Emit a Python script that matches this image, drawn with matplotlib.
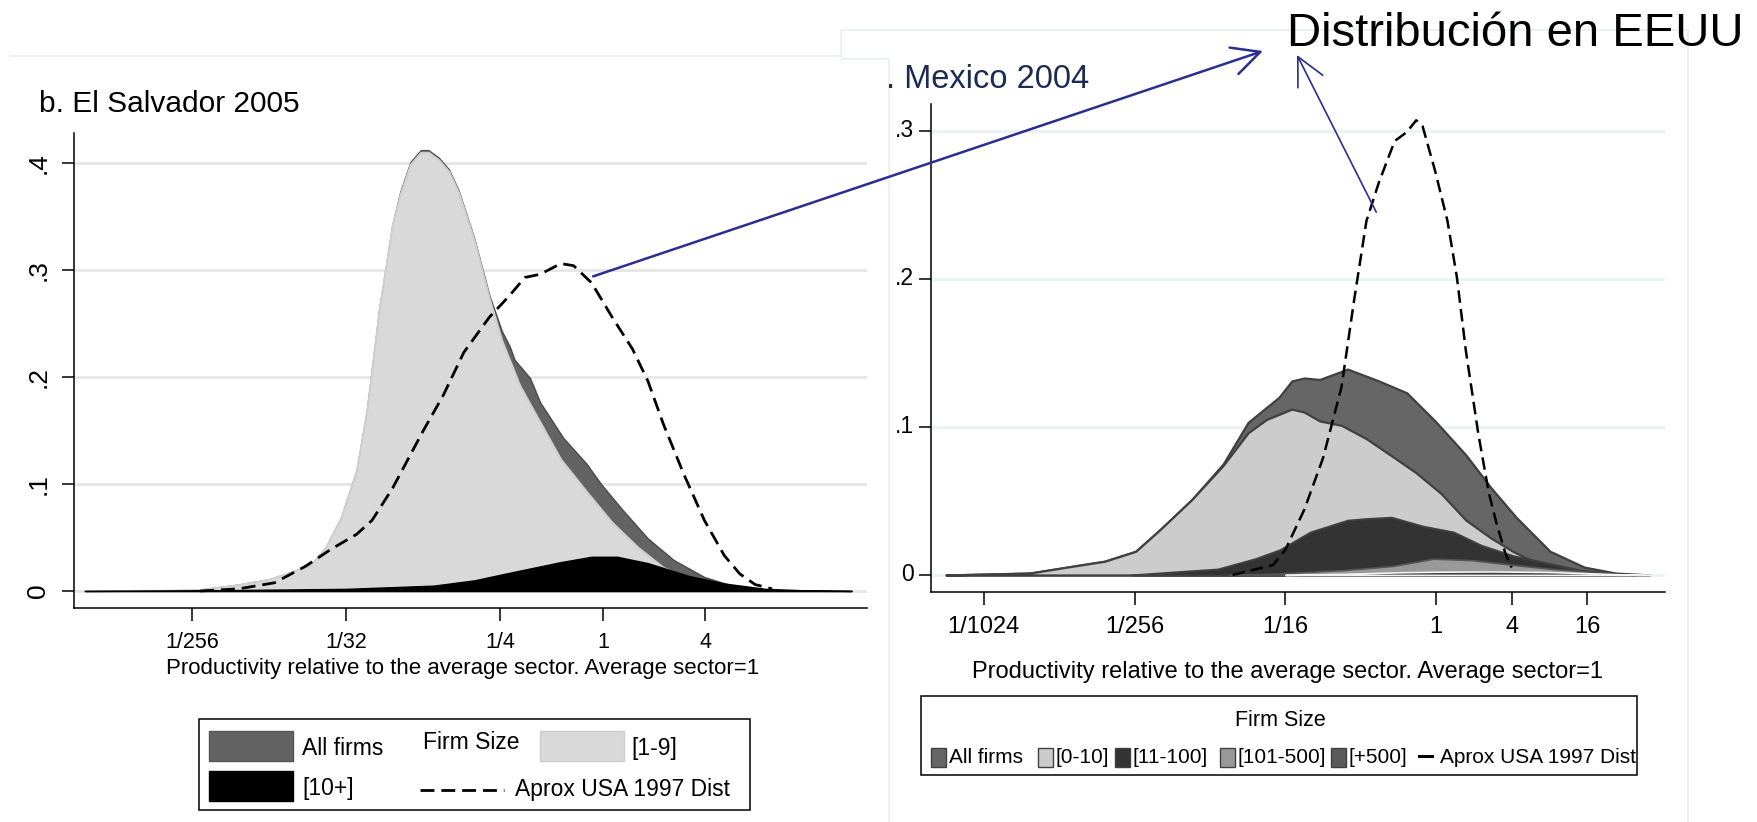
import matplotlib
matplotlib.use("Agg")
import matplotlib.pyplot as plt
from matplotlib.patches import Rectangle, ConnectionPatch

plt.rcParams['font.family'] = ['Liberation Sans', 'DejaVu Sans']

W, H, DPI = 1758, 822, 100

# x values are log2(productivity relative to sector average)
# b. El Salvador 2005
es_all_x = [-10.1, -7.9, -7.1, -6.5, -6.0, -5.7, -5.4, -5.1, -4.8, -4.6, -4.36, -4.1, -3.95,
            -3.75, -3.55, -3.4, -3.2, -3.0, -2.81, -2.51, -2.21, -1.97, -1.82, -1.72, -1.42,
            -1.22, -0.77, -0.32, -0.02, 0.38, 0.88, 1.38, 1.98, 2.57, 3.17, 3.85, 4.85]
es_all_y = [0, .001, .006, .011, .019, .024, .041, .069, .113, .169, .263, .343, .373,
            .401, .412, .412, .405, .394, .374, .330, .276, .243, .229, .216, .199,
            .176, .143, .119, .099, .076, .049, .029, .013, .0043, .001, .0003, 0]
es_small_x = [-10.1, -7.9, -7.1, -6.5, -6.0, -5.7, -5.4, -5.1, -4.8, -4.6, -4.36, -4.1, -3.95,
              -3.75, -3.55, -3.4, -3.2, -3.0, -2.81, -2.51, -2.21, -1.97, -1.82, -1.62, -1.32,
              -0.82, -0.32, 0.18, 0.68, 1.18, 1.68, 2.37, 2.97, 3.6]
es_small_y = [0, .001, .006, .011, .019, .024, .041, .069, .113, .169, .263, .343, .371,
              .399, .410, .410, .403, .392, .372, .328, .273, .234, .216, .192, .166,
              .123, .093, .064, .041, .022, .011, .004, .001, 0]
es_large_x = [-10.1, -7.9, -5.0, -3.3, -2.5, -1.82, -0.82, -0.22, 0.28, 0.88, 1.68, 2.37,
              3.17, 3.85, 4.85]
es_large_y = [0, .0005, .002, .005, .010, .017, .027, .032, .032, .026, .014, .007,
              .002, .0008, 0]
es_usa_x = [-7.85, -7.1, -6.4, -5.8, -5.3, -4.8, -4.5, -4.1, -3.51, -3.11, -2.71, -2.21,
            -1.82, -1.52, -1.22, -0.82, -0.57, -0.22, 0.18, 0.58, 0.88, 1.18, 1.58, 1.98,
            2.37, 2.67, 2.97, 3.3]
es_usa_y = [0, .002, .0077, .023, .039, .053, .066, .096, .149, .183, .223, .256,
            .276, .293, .296, .306, .304, .288, .256, .226, .196, .156, .109, .066,
            .033, .016, .006, .002]
es_xticks = [-8, -5, -2, 0, 2]
es_xlabels = ['1/256', '1/32', '1/4', '1', '4']
es_yticks = [0, .1, .2, .3, .4]
es_ylabels = ['0', '.1', '.2', '.3', '.4']

# Mexico 2004
mx_all_x = [-13.0, -10.78, -9.62, -8.79, -7.97, -7.31, -6.48, -5.65, -4.99, -4.17, -3.83,
            -3.5, -3.09, -2.35, -1.52, -0.78, -0.03, 0.79, 1.45, 2.12, 3.02, 3.93, 4.76, 5.67]
mx_all_y = [0, .0013, .006, .0093, .016, .031, .051, .075, .103, .120, .131,
            .133, .132, .139, .131, .123, .104, .081, .059, .039, .016, .0053, .0013, 0]
mx_small_x = [-13.0, -10.78, -9.62, -8.79, -7.97, -7.31, -6.48, -5.65, -4.99, -4.5, -3.83,
              -3.5, -3.09, -2.51, -1.85, -1.1, -0.53, 0.13, 0.79, 1.45, 2.03, 2.78, 3.77, 4.76]
mx_small_y = [0, .0013, .006, .0093, .016, .031, .051, .074, .096, .105, .112,
              .110, .104, .101, .092, .079, .069, .055, .037, .025, .016, .0067, .002, 0]
mx_mid_x = [-8.1, -6.7, -5.8, -4.8, -4.15, -3.34, -2.35, -1.9, -1.19, -0.36, 0.46, 1.2,
            2.04, 2.78, 3.8, 4.76, 5.3]
mx_mid_y = [0, .0025, .004, .011, .017, .029, .037, .038, .039, .033, .029, .020,
            .013, .009, .0034, .001, 0]
mx_upper_x = [-5.5, -4.17, -2.4, -1.19, -0.5, -0.08, 0.96, 2.05, 3.1, 3.8, 4.8, 5.5]
mx_upper_y = [0, .001, .0034, .006, .009, .011, .010, .0068, .004, .0027, .0008, 0]
mx_top_x = [-4.0, -2.4, -1.0, 0.0, 1.5, 3.0, 4.0, 5.0, 5.7]
mx_top_y = [0, .0008, .0018, .0022, .0024, .002, .0012, .0003, 0]
mx_usa_x = [-5.4, -4.33, -4.0, -3.5, -3.0, -2.51, -2.18, -1.85, -1.52, -1.1, -0.78, -0.53,
            -0.36, -0.03, 0.3, 0.55, 0.79, 1.12, 1.4, 1.6, 1.83, 2.0]
mx_usa_y = [0, .0067, .017, .044, .079, .127, .185, .239, .265, .293, .299, .307,
            .303, .273, .239, .201, .151, .095, .055, .035, .015, .005]
mx_xticks = [-12, -8, -4, 0, 2, 4]
mx_xlabels = ['1/1024', '1/256', '1/16', '1', '4', '16']
mx_yticks = [0, .1, .2, .3]
mx_ylabels = ['0', '.1', '.2', '.3']

xlabel_text = 'Productivity relative to the average sector. Average sector=1'
es_legend = ['All firms', '[10+]', 'Firm Size', 'Aprox USA 1997 Dist', '[1-9]']
mx_legend = ['All firms', '[0-10]', '[11-100]', '[101-500]', '[+500]', 'Aprox USA 1997 Dist']
NAVY = '#2b2e8f'


def px_rect(x0, y0, x1, y1):
    return [x0 / W, 1 - y1 / H, (x1 - x0) / W, (y1 - y0) / H]


def style_axes(ax, yticks, ylabels, xticks, xlabels, grid_color, rot, xlab_pos, xlab_size):
    for s in ('top', 'right'):
        ax.spines[s].set_visible(False)
    for s in ('left', 'bottom'):
        ax.spines[s].set_linewidth(1.1)
    ax.set_yticks(yticks)
    ax.set_yticklabels(ylabels, rotation=rot, va='center')
    ax.set_xticks(xticks)
    ax.set_xticklabels(xlabels)
    ax.tick_params(axis='both', length=9, width=1.1)
    for v in yticks:
        ax.axhline(v, color=grid_color, lw=2.0, zorder=0)
    ax.set_xlabel(xlabel_text, fontsize=xlab_size)
    ax.xaxis.set_label_coords(*xlab_pos)


fig = plt.figure(figsize=(W / DPI, H / DPI), dpi=DPI)

# faint screenshot frames
deco = fig.add_axes([0, 0, 1, 1], zorder=-5)
deco.set_xlim(0, W)
deco.set_ylim(H, 0)
deco.axis('off')
fc = '#e9efef'
deco.plot([10, 841], [56, 56], color=fc, lw=1.2)
deco.plot([841, 841, 1688, 1688], [56, 30, 30, 822], color=fc, lw=1.2)
deco.plot([841, 889, 889], [59, 59, 822], color=fc, lw=1.2)

# ---- left panel: El Salvador ----
ax1 = fig.add_axes(px_rect(74, 133, 867, 608))
ax1.set_xlim(-10.31, 5.15)
ax1.set_ylim(-0.0159, 0.428)
ax1.fill_between(es_all_x, 0, es_all_y, facecolor='#636363', edgecolor='#4a4a4a', lw=1, zorder=2)
ax1.fill_between(es_small_x, 0, es_small_y, facecolor='#d9d9d9', edgecolor='#cfcfcf', lw=1.5, zorder=3)
ax1.fill_between(es_large_x, 0, es_large_y, facecolor='black', edgecolor='black', lw=1, zorder=4)
ax1.plot(es_usa_x, es_usa_y, color='black', lw=2.0, dashes=(5, 2.5), zorder=5)
style_axes(ax1, es_yticks, es_ylabels, es_xticks, es_xlabels, '#e6e6e6', 90, (0.49, -0.105), 16)
ax1.tick_params(axis='x', labelsize=15.5, pad=8)
ax1.tick_params(axis='y', labelsize=19, pad=8)

# ---- right panel: Mexico ----
ax2 = fig.add_axes(px_rect(931, 104, 1665, 592))
ax2.set_xlim(-13.40, 6.07)
ax2.set_ylim(-0.0115, 0.318)
edge = '#404040'
ax2.fill_between(mx_all_x, 0, mx_all_y, facecolor='#666666', edgecolor=edge, lw=1.6, zorder=2)
ax2.fill_between(mx_small_x, 0, mx_small_y, facecolor='#cccccc', edgecolor=edge, lw=1.6, zorder=3)
ax2.fill_between(mx_mid_x, 0, mx_mid_y, facecolor='#333333', edgecolor=edge, lw=1.4, zorder=4)
ax2.fill_between(mx_upper_x, 0, mx_upper_y, facecolor='#999999', edgecolor='#555555', lw=1.2, zorder=5)
ax2.fill_between(mx_top_x, 0, mx_top_y, facecolor='#444444', edgecolor='#f2f2f2', lw=1.2, zorder=6)
ax2.plot(mx_usa_x, mx_usa_y, color='black', lw=1.8, dashes=(5, 2.5), zorder=7)
style_axes(ax2, mx_yticks, mx_ylabels, mx_xticks, mx_xlabels, '#eaf2f3', 0, (0.486, -0.141), 17)
ax2.tick_params(axis='x', labelsize=17, pad=8)
ax2.tick_params(axis='y', labelsize=16.5, pad=3)

# ---- overlay: titles, legends, arrows ----
over = fig.add_axes([0, 0, 1, 1], zorder=10)
over.set_xlim(0, W)
over.set_ylim(H, 0)
over.axis('off')

over.text(39, 104, 'b. El Salvador 2005', fontsize=21.5, va='center', ha='left')
over.text(886, 79, '. Mexico 2004', fontsize=23.5, va='center', ha='left', color='#1c2b53')
over.text(1287, 34, 'Distribución en EEUU', fontsize=34, va='center', ha='left')

# left legend
over.add_patch(Rectangle((199, 719), 551, 91, fill=False, edgecolor='black', lw=1.1))
over.add_patch(Rectangle((209, 731), 84, 30, facecolor='#636363', edgecolor='#555555', lw=1))
over.add_patch(Rectangle((209, 771), 84, 30, facecolor='black', edgecolor='black', lw=1))
over.add_patch(Rectangle((540, 731), 84, 30, facecolor='#d9d9d9', edgecolor='#cccccc', lw=1))
over.plot([420, 504], [790, 790], color='black', lw=2.0, dashes=(5, 2.5))
over.text(302, 748, es_legend[0], fontsize=16.5, va='center')
over.text(302, 788, es_legend[1], fontsize=16.5, va='center')
over.text(423, 742, es_legend[2], fontsize=16.5, va='center')
over.text(515, 789, es_legend[3], fontsize=16.5, va='center')
over.text(631, 748, es_legend[4], fontsize=16.5, va='center')

# right legend
over.add_patch(Rectangle((921, 696), 716, 79, fill=False, edgecolor='black', lw=1.1))
over.text(1280, 720, 'Firm Size', fontsize=15.5, va='center', ha='center')
mx_sw_x = [931, 1038, 1115, 1220, 1331]
mx_txt_x = [949, 1056, 1133, 1238, 1349]
mx_sw_col = ['#666666', '#cccccc', '#333333', '#999999', '#5a5a5a']
for sx, tx, col, lab in zip(mx_sw_x, mx_txt_x, mx_sw_col, mx_legend[:5]):
    over.add_patch(Rectangle((sx, 748), 15, 19, facecolor=col, edgecolor=edge, lw=1))
    over.text(tx, 757, lab, fontsize=15, va='center')
over.plot([1419, 1432], [756, 756], color='black', lw=2.2)
over.text(1440, 757, mx_legend[5], fontsize=15, va='center')

# arrows from the USA curves to the label
arr1 = ConnectionPatch(xyA=(-0.19, 0.294), coordsA=ax1.transData,
                       xyB=(1263, 51), coordsB=over.transData,
                       arrowstyle='->,head_length=1.0,head_width=0.5', mutation_scale=20,
                       color=NAVY, lw=1.8, zorder=20)
arr2 = ConnectionPatch(xyA=(-1.59, 0.245), coordsA=ax2.transData,
                       xyB=(1297, 55), coordsB=over.transData,
                       arrowstyle='->,head_length=1.0,head_width=0.5', mutation_scale=20,
                       color=NAVY, lw=1.2, zorder=20)
fig.add_artist(arr1)
fig.add_artist(arr2)

fig.savefig('out.png', dpi=DPI)
